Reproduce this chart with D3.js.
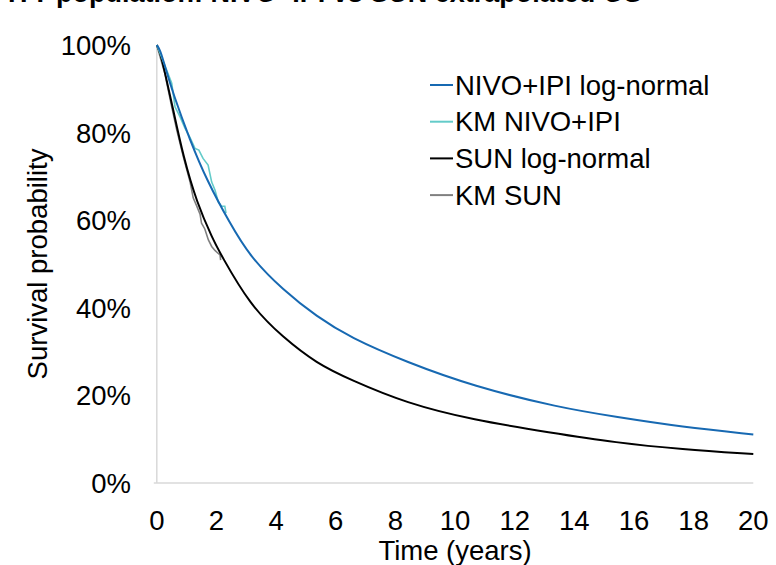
<!doctype html>
<html lang="en">

<head>
    <meta charset="UTF-8">
    <title>Survival extrapolation</title>
    <script src="https://d3js.org/d3.v7.min.js"></script>
    <style>
        body {
            margin: 0;
            background: white;
        }

        svg {
            display: block;
            font-family: Arial, "Liberation Sans", sans-serif;
        }

        .tick-label,
        .axis-title,
        .legend text {
            font-size: 27.5px;
            fill: #000;
        }
    </style>
</head>

<body>
    <svg width="776" height="565"></svg>

    <script>
        // values: [time in years, survival fraction]
        const nivoLogNormal = [
            [0, 1], [0.12, 0.988], [0.27, 0.952], [0.55, 0.888], [1.11, 0.783], [1.67, 0.692],
            [2.45, 0.593], [3.12, 0.517], [4.24, 0.44], [5.36, 0.38], [6.48, 0.332],
            [8.37, 0.276], [10.6, 0.221], [13.5, 0.172], [15.4, 0.151], [17.6, 0.128], [20, 0.111]
        ];
        const kmNivo = [
            [0, 1], [0.33, 0.943], [0.5, 0.913], [0.61, 0.859], [0.78, 0.836], [0.94, 0.811],
            [1.11, 0.789], [1.28, 0.764], [1.41, 0.76], [1.55, 0.741], [1.72, 0.726], [1.84, 0.687],
            [1.95, 0.669], [2.06, 0.642], [2.17, 0.632], [2.28, 0.632], [2.32, 0.616]
        ];
        const sunLogNormal = [
            [0, 1], [0.12, 0.982], [0.28, 0.935], [0.55, 0.852], [0.89, 0.745], [1.34, 0.64],
            [1.89, 0.555], [2.12, 0.525], [3.13, 0.405], [4.24, 0.332], [5.36, 0.273], [6.48, 0.236],
            [8.37, 0.182], [10.6, 0.144], [13.2, 0.115], [15.4, 0.092], [17.6, 0.077], [20, 0.066]
        ];
        const kmSun = [
            [0, 1], [0.11, 0.973], [0.27, 0.935], [0.5, 0.859], [0.67, 0.806], [0.89, 0.745],
            [1.11, 0.689], [1.22, 0.651], [1.34, 0.632], [1.45, 0.614], [1.5, 0.593], [1.61, 0.58],
            [1.73, 0.555], [1.84, 0.54], [1.95, 0.531], [2.06, 0.524], [2.12, 0.521], [2.14, 0.509]
        ];

        const xTicks = [0, 2, 4, 6, 8, 10, 12, 14, 16, 18, 20];
        const yTicks = [0, 0.2, 0.4, 0.6, 0.8, 1];

        const seriesNames = ['NIVO+IPI log-normal', 'KM NIVO+IPI', 'SUN log-normal', 'KM SUN'];
        const seriesColors = ['#1769b2', '#63cbc9', '#000000', '#808080'];

        const svg = d3.select('svg');

        const x = d3.scaleLinear().domain([0, 20]).range([156.8, 753.3]);
        const y = d3.scaleLinear().domain([0, 1]).range([483, 45]);

        // title, mostly cut off at the top of the picture
        svg.append('text')
            .attr('x', 8)
            .attr('y', 2)
            .style('font-size', '27px')
            .style('font-weight', 'bold')
            .text('ITT population: NIVO+IPI vs SUN extrapolated OS');

        // axis lines
        svg.append('line')
            .attr('x1', x(0)).attr('x2', x(0))
            .attr('y1', y(1)).attr('y2', y(0))
            .attr('stroke', '#d9d9d9').attr('stroke-width', 1.5);
        svg.append('line')
            .attr('x1', x(0) - 3).attr('x2', x(20))
            .attr('y1', y(0)).attr('y2', y(0))
            .attr('stroke', '#d9d9d9').attr('stroke-width', 1.5);

        svg.selectAll('.ylab')
            .data(yTicks)
            .enter()
            .append('text')
            .attr('class', 'tick-label')
            .attr('x', 131)
            .attr('y', (d) => y(d) + 10)
            .attr('text-anchor', 'end')
            .text((d) => d3.format('.0%')(d));

        svg.selectAll('.xlab')
            .data(xTicks)
            .enter()
            .append('text')
            .attr('class', 'tick-label')
            .attr('x', (d) => x(d))
            .attr('y', 530)
            .attr('text-anchor', 'middle')
            .text((d) => d);

        svg.append('text')
            .attr('class', 'axis-title')
            .attr('x', (x(0) + x(20)) / 2)
            .attr('y', 560)
            .attr('text-anchor', 'middle')
            .text('Time (years)');

        svg.append('text')
            .attr('class', 'axis-title')
            .attr('transform', `translate(47, ${(y(0) + y(1)) / 2}) rotate(-90)`)
            .attr('text-anchor', 'middle')
            .text('Survival probability');

        const smooth = d3.line()
            .x((d) => x(d[0]))
            .y((d) => y(d[1]))
            .curve(d3.curveBasis);
        const steps = d3.line()
            .x((d) => x(d[0]))
            .y((d) => y(d[1]));

        svg.append('path').datum(kmSun)
            .attr('d', steps).attr('fill', 'none')
            .attr('stroke', seriesColors[3]).attr('stroke-width', 1.6);
        svg.append('path').datum(sunLogNormal)
            .attr('d', smooth).attr('fill', 'none')
            .attr('stroke', seriesColors[2]).attr('stroke-width', 2);
        svg.append('path').datum(kmNivo)
            .attr('d', steps).attr('fill', 'none')
            .attr('stroke', seriesColors[1]).attr('stroke-width', 1.6);
        svg.append('path').datum(nivoLogNormal)
            .attr('d', smooth).attr('fill', 'none')
            .attr('stroke', seriesColors[0]).attr('stroke-width', 2);

        // legend
        const legend = svg.append('g')
            .attr('class', 'legend')
            .attr('transform', 'translate(430, 85)');

        const item = legend.selectAll('g')
            .data(seriesNames)
            .enter()
            .append('g')
            .attr('transform', (d, i) => `translate(0, ${i * 36.7})`);

        item.append('line')
            .attr('x1', 0).attr('x2', 23)
            .attr('stroke', (d, i) => seriesColors[i])
            .attr('stroke-width', 2);

        item.append('text')
            .attr('x', 25)
            .attr('y', 9.5)
            .text((d) => d);
    </script>
</body>

</html>
